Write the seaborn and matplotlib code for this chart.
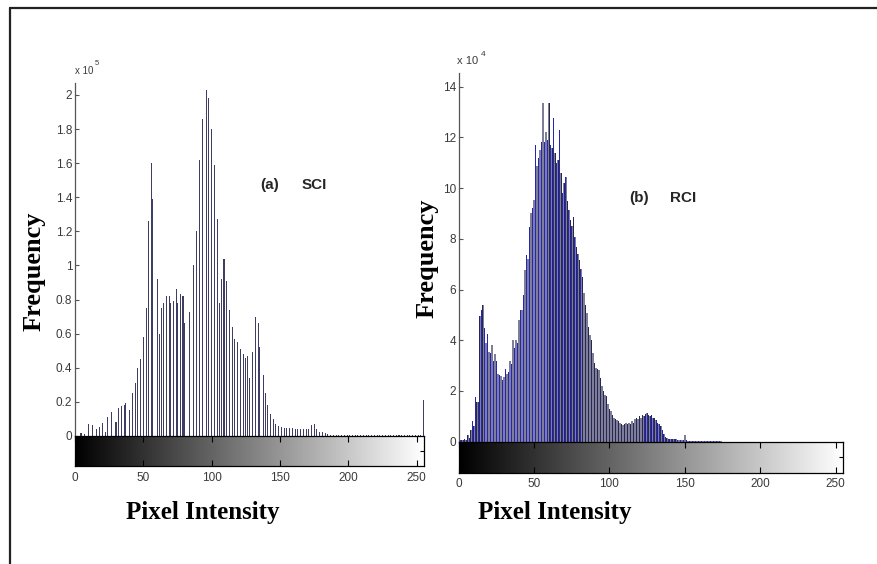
import numpy as np
import pandas as pd
import matplotlib
matplotlib.use("Agg")
import matplotlib.pyplot as plt
from matplotlib.lines import Line2D
import seaborn as sns

# ---------------- data ----------------
# (a) SCI histogram: pixel intensity bins and counts (x 1e5)
sci_intensity = [4, 5, 7, 10, 13, 16, 18, 20, 22, 24, 27, 30, 32, 34, 36, 37, 40, 42, 44, 46,
                 48, 50, 52, 54, 56, 57, 60, 62, 63, 65, 67, 69, 70, 72, 74, 75, 77, 79, 80, 84,
                 87, 89, 91, 93, 96, 98, 100, 102, 104, 106, 107, 109, 111, 113, 115, 117, 119, 121, 123, 125,
                 126, 128, 130, 132, 134, 135, 138, 139, 141, 143, 145, 147, 149, 151, 153, 155, 157, 159, 161, 163,
                 165, 167, 169, 171, 173, 175, 177, 179, 181, 183, 185, 187, 189, 191, 193, 195, 197, 199, 201, 203,
                 205, 207, 209, 211, 213, 215, 217, 219, 221, 223, 225, 227, 229, 231, 233, 235, 237, 239, 241, 243,
                 245, 247, 249, 251, 253, 255]
sci_count = [0.02, 0.02, 0.012, 0.07, 0.065, 0.042, 0.05, 0.075, 0.025, 0.11, 0.14, 0.08, 0.165, 0.175, 0.18, 0.195, 0.15, 0.25, 0.31, 0.40,
             0.45, 0.58, 0.75, 1.26, 1.60, 1.39, 0.92, 0.60, 0.75, 0.78, 0.82, 0.82, 0.78, 0.79, 0.86, 0.78, 0.83, 0.82, 0.66, 0.73,
             1.00, 1.20, 1.62, 1.86, 2.03, 1.98, 1.80, 1.59, 1.27, 0.78, 0.92, 1.04, 0.91, 0.74, 0.64, 0.57, 0.55, 0.51, 0.48, 0.46,
             0.47, 0.34, 0.49, 0.70, 0.66, 0.52, 0.36, 0.25, 0.18, 0.13, 0.10, 0.07, 0.06, 0.05, 0.045, 0.045, 0.045, 0.045, 0.043, 0.043,
             0.043, 0.043, 0.043, 0.043, 0.065, 0.07, 0.04, 0.025, 0.025, 0.02, 0.012, 0.006, 0.004, 0.004, 0.004, 0.004, 0.004, 0.004, 0.004, 0.004,
             0.004, 0.004, 0.004, 0.004, 0.004, 0.004, 0.004, 0.004, 0.004, 0.004, 0.004, 0.004, 0.004, 0.004, 0.004, 0.004, 0.004, 0.004, 0.004, 0.004,
             0.004, 0.004, 0.004, 0.004, 0.004, 0.21]

# (b) RCI histogram: counts (x 1e4) for intensities 0..175
rci_count = [0.05, 0.05, 0.08, 0.05, 0.10, 0.05, 0.25, 0.15, 0.45, 0.80,
             0.60, 1.78, 1.55, 1.55, 4.95, 5.20, 5.40, 4.47, 3.90, 4.24,
             3.54, 3.50, 3.80, 3.17, 3.47, 3.18, 2.68, 2.64, 2.60, 2.42,
             2.55, 2.88, 2.68, 2.74, 3.18, 3.08, 4.00, 3.70, 4.00, 3.90,
             4.80, 5.20, 5.20, 5.78, 6.77, 7.36, 7.20, 8.48, 9.00, 9.20,
             9.53, 11.70, 10.87, 11.20, 11.50, 11.80, 13.35, 11.83, 12.22, 11.90,
             13.35, 11.70, 11.60, 12.75, 11.40, 10.98, 11.10, 12.29, 10.60, 9.80,
             10.20, 10.45, 9.50, 9.14, 8.74, 8.50, 8.87, 8.08, 7.69, 7.40,
             7.16, 6.80, 6.50, 5.85, 5.40, 5.06, 4.53, 4.20, 4.00, 3.48,
             3.10, 2.90, 2.85, 2.83, 2.50, 2.20, 2.00, 1.85, 1.80, 1.50,
             1.30, 1.20, 1.05, 0.95, 0.90, 0.85, 0.80, 0.75, 0.70, 0.65,
             0.70, 0.75, 0.70, 0.75, 0.70, 0.80, 0.75, 0.90, 0.95, 0.90,
             1.00, 0.95, 1.05, 1.00, 1.10, 1.15, 1.05, 1.00, 1.05, 0.95,
             0.95, 0.85, 0.75, 0.70, 0.60, 0.45, 0.30, 0.20, 0.15, 0.12,
             0.12, 0.10, 0.10, 0.10, 0.10, 0.08, 0.08, 0.06, 0.06, 0.06,
             0.25, 0.06, 0.04, 0.04, 0.04, 0.04, 0.04, 0.04, 0.04, 0.04,
             0.03, 0.03, 0.03, 0.03, 0.03, 0.03, 0.03, 0.03, 0.03, 0.03,
             0.02, 0.02, 0.02, 0.03, 0.02, 0.0]
rci_intensity = list(range(len(rci_count)))

x_ticks = [0, 50, 100, 150, 200, 250]
x_ticklabels = ["0", "50", "100", "150", "200", "250"]
sci_yticks = [0, 0.2, 0.4, 0.6, 0.8, 1.0, 1.2, 1.4, 1.6, 1.8, 2.0]
sci_yticklabels = ["0", "0.2", "0.4", "0.6", "0.8", "1", "1.2", "1.4", "1.6", "1.8", "2"]
rci_yticks = [0, 2, 4, 6, 8, 10, 12, 14]
rci_yticklabels = ["0", "2", "4", "6", "8", "10", "12", "14"]

panel_tags = ["(a)", "(b)"]
panel_names = ["SCI", "RCI"]
exponents = ["5", "4"]

# ---------------- figure ----------------
sns.set_theme(style="white")
plt.rcParams['font.family'] = ['Liberation Sans', 'DejaVu Sans']

W, H = 878, 564
fig = plt.figure(figsize=(W / 100, H / 100), dpi=100)
fig.patch.set_facecolor("white")


def rect(x0, y0, x1, y1):
    """pixel box (top-left origin) -> figure fraction rect"""
    return [x0 / W, 1 - y1 / H, (x1 - x0) / W, (y1 - y0) / H]


def fx(x):
    return x / W


def fy(y):
    return 1 - y / H


tick_col = "#3a3a3a"
gradient = np.linspace(0, 1, 512).reshape(1, -1)


def style_hist(ax, yticks, ylabels, ylim):
    ax.set_xlim(0, 255)
    ax.set_ylim(*ylim)
    ax.set_facecolor("none")
    for s in ["top", "right", "bottom"]:
        ax.spines[s].set_visible(False)
    ax.spines["left"].set_color("#555555")
    ax.spines["left"].set_linewidth(0.9)
    ax.set_xticks([])
    ax.set_yticks(yticks)
    ax.set_yticklabels(ylabels)
    ax.tick_params(axis="y", direction="in", length=3, width=0.8, color="#555555",
                   labelsize=8.5, labelcolor=tick_col, pad=2, left=True)
    ax.set_xlabel("")
    ax.set_ylabel("")


def colorbar_axes(ax):
    ax.imshow(gradient, cmap="gray", aspect="auto", extent=(0, 255, 0, 1), vmin=0, vmax=1)
    ax.set_xlim(0, 255)
    ax.set_ylim(0, 1)
    ax.set_xticks(x_ticks)
    ax.set_xticklabels(x_ticklabels)
    ax.tick_params(axis="x", direction="in", length=4, width=0.8, color="black",
                   top=True, bottom=True, labelsize=8.5, labelcolor=tick_col, pad=4)
    ax.set_yticks([0.5])
    ax.set_yticklabels([])
    ax.tick_params(axis="y", direction="in", length=3, width=0.8, color="black",
                   left=False, right=True, labelleft=False)
    for s in ax.spines.values():
        s.set_visible(True)
        s.set_color("black")
        s.set_linewidth(0.9)


# ---- panel (a) ----
ax1 = fig.add_axes(rect(75, 83, 423.6, 436))
sns.histplot(x=sci_intensity, weights=sci_count, discrete=True, shrink=0.75,
             color="#3e3e64", alpha=1, linewidth=0, antialiased=False, ax=ax1)
style_hist(ax1, sci_yticks, sci_yticklabels, (0, 2.07))
cb1 = fig.add_axes(rect(75, 436, 423.6, 466))
colorbar_axes(cb1)

# ---- panel (b) ----
ax2 = fig.add_axes(rect(458.7, 73, 843.2, 441.7))
even_i = [i for i in rci_intensity if i % 2 == 0]
even_c = [rci_count[i] for i in even_i]
odd_i = [i for i in rci_intensity if i % 2 == 1]
odd_c = [rci_count[i] for i in odd_i]
sns.histplot(x=rci_intensity, weights=rci_count, discrete=True, shrink=1.0,
             color="#7e7e9a", alpha=1, linewidth=0, ax=ax2)
sns.histplot(x=even_i, weights=even_c, discrete=True, shrink=0.45,
             color="#28284e", alpha=1, linewidth=0, ax=ax2)
sns.histplot(x=odd_i, weights=odd_c, discrete=True, shrink=0.45,
             color="#2626b4", alpha=1, linewidth=0, ax=ax2)
style_hist(ax2, rci_yticks, rci_yticklabels, (0, 14.54))
cb2 = fig.add_axes(rect(458.7, 441.7, 843.2, 472.7))
colorbar_axes(cb2)

# ---------------- texts ----------------
serif = ['Liberation Serif', 'DejaVu Serif']
fig.text(fx(34), fy(271), "Frequency", rotation=90, ha="center", va="center",
         fontsize=19, fontweight="bold", family=serif, color="black")
fig.text(fx(427), fy(258), "Frequency", rotation=90, ha="center", va="center",
         fontsize=19, fontweight="bold", family=serif, color="black")
fig.text(fx(203), fy(512), "Pixel Intensity", ha="center", va="center",
         fontsize=18, fontweight="bold", family=serif, color="black")
fig.text(fx(555), fy(513), "Pixel Intensity", ha="center", va="center",
         fontsize=18, fontweight="bold", family=serif, color="black")

fig.text(fx(270), fy(185), panel_tags[0], ha="center", va="center", fontsize=11, fontweight="bold")
fig.text(fx(314), fy(185), panel_names[0], ha="center", va="center", fontsize=11, fontweight="bold")
fig.text(fx(639), fy(198), panel_tags[1], ha="center", va="center", fontsize=11, fontweight="bold")
fig.text(fx(683), fy(198), panel_names[1], ha="center", va="center", fontsize=11, fontweight="bold")

fig.text(fx(75), fy(71), "x 10", ha="left", va="center", fontsize=7, color=tick_col)
fig.text(fx(95), fy(64), exponents[0], ha="left", va="center", fontsize=5.5, color=tick_col)
fig.text(fx(457), fy(61), "x 10", ha="left", va="center", fontsize=8, color=tick_col)
fig.text(fx(481), fy(54), exponents[1], ha="left", va="center", fontsize=6, color=tick_col)

# outer frame (top and left edges)
fig.add_artist(Line2D([fx(10), fx(878)], [fy(8), fy(8)], color="#222222", linewidth=1.6))
fig.add_artist(Line2D([fx(10), fx(10)], [fy(8), fy(564)], color="#222222", linewidth=1.6))

fig.savefig("out.png", dpi=100, facecolor="white")
